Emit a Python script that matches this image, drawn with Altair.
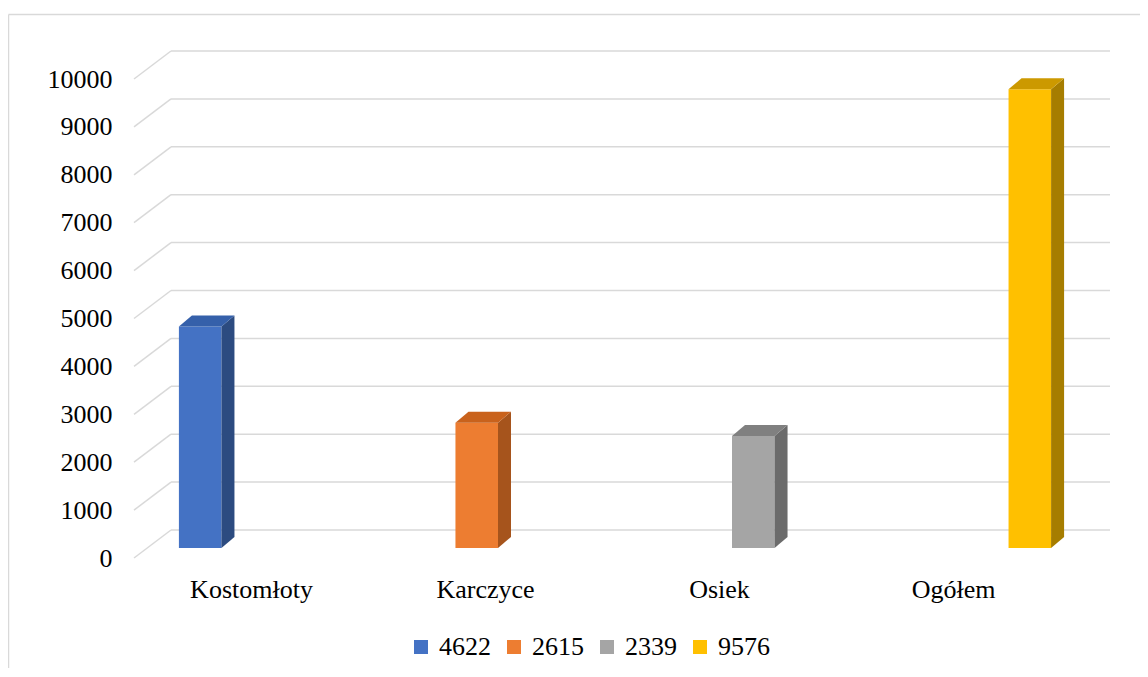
import altair as alt
import pandas as pd

# ---- data ----
CATEGORIES = ["Kostomłoty", "Karczyce", "Osiek", "Ogółem"]
SERIES = ["4622", "2615", "2339", "9576"]
VALUES = [4622, 2615, 2339, 9576]
Y_TICKS = [0, 1000, 2000, 3000, 4000, 5000, 6000, 7000, 8000, 9000, 10000]

# ---- styles ----
FRONT = ["#4472C4", "#ED7D31", "#A5A5A5", "#FFC000"]
TOP = ["#3560AA", "#C9621C", "#808080", "#CC9900"]
SIDE = ["#2C4B80", "#A6541C", "#6B6B6B", "#A67D00"]
GRID = "#d9d9d9"
FONT = "Liberation Serif"

W, H = 976, 479
CAT_W = 234.0                # pixel width of one category on the front edge
DX = 13 / CAT_W              # bar depth, in category units
DY = 11 / H * 10000          # bar depth, in value units
SLOT = 1 / 5.5               # 4 series + 150% gap width

bars = pd.DataFrame({"category": CATEGORIES, "series": SERIES,
                     "value": VALUES, "idx": list(range(len(CATEGORIES)))})
grid = pd.DataFrame({"v": Y_TICKS})

xscale = alt.Scale(domain=[0, W / CAT_W], nice=False, zero=False)
yscale = alt.Scale(domain=[0, 10000], nice=False, zero=False)

label_arr = "[" + ",".join("'" + c + "'" for c in CATEGORIES) + "]"

XAXIS = alt.Axis(values=[0.5, 1.5, 2.5, 3.5],
                 labelExpr=f"{label_arr}[floor(datum.value)]",
                 grid=False, domain=False, ticks=False, title=None,
                 labelPadding=18, labelFontSize=26, labelFont=FONT,
                 labelColor="black", labelAngle=0)
YAXIS = alt.Axis(values=Y_TICKS, format="d", grid=False, domain=False, ticks=False,
                 title=None, labelPadding=22, labelFontSize=26,
                 labelFont=FONT, labelColor="black")

base = (alt.Chart(bars)
        .transform_calculate(left=f"datum.idx + (0.75 + datum.idx) * {SLOT}")
        .transform_calculate(right=f"datum.left + {SLOT}")
        .transform_calculate(zero="0"))

front = base.mark_rect(xOffset=13, x2Offset=13, yOffset=-10, y2Offset=-10).encode(
    x=alt.X("left:Q", scale=xscale, axis=XAXIS),
    x2="right:Q",
    y=alt.Y("value:Q", scale=yscale, axis=YAXIS, stack=None),
    y2="zero:Q",
    color=alt.Color("series:N", scale=alt.Scale(domain=SERIES, range=FRONT),
                    legend=alt.Legend(orient="none", legendX=274, legendY=555,
                                      direction="horizontal", title=None,
                                      symbolType="square", symbolSize=196,
                                      symbolStrokeWidth=0, labelFontSize=26,
                                      labelFont=FONT, labelColor="black",
                                      labelOffset=5, columnPadding=10, padding=0)),
)

pts = (base.transform_calculate(k0="0", k1="1")
       .transform_fold(["k0", "k1"], as_=["kname", "kstr"])
       .transform_calculate(k="toNumber(datum.kstr)"))

side = (pts.transform_calculate(sx=f"datum.right + datum.k * {DX}")
        .transform_calculate(sy=f"datum.value + datum.k * {DY}")
        .transform_calculate(sy2=f"datum.k * {DY}")
        .mark_area(xOffset=13, yOffset=-10, y2Offset=-10)
        .encode(x=alt.X("sx:Q", scale=xscale, axis=XAXIS),
                y=alt.Y("sy:Q", scale=yscale, axis=YAXIS, stack=None),
                y2="sy2:Q",
                color=alt.Color("series:N", scale=alt.Scale(domain=SERIES, range=SIDE), legend=None)))

pts2 = base.transform_calculate(k="[0, 1]").transform_flatten(["k"])
top = (pts2.transform_calculate(tx=f"datum.left + datum.k * {DX}")
       .transform_calculate(tx2=f"datum.right + datum.k * {DX}")
       .transform_calculate(ty=f"datum.value + datum.k * {DY}")
       .mark_area(orient="horizontal", xOffset=13, x2Offset=13, yOffset=-10)
       .encode(y=alt.Y("ty:Q", scale=yscale, axis=YAXIS),
               x=alt.X("tx:Q", scale=xscale, axis=XAXIS, stack=None),
               x2="tx2:Q",
               color=alt.Color("series:N", scale=alt.Scale(domain=SERIES, range=TOP), legend=None)))

back_grid = alt.Chart(grid).mark_rule(color=GRID, strokeWidth=1.5, yOffset=-28, y2Offset=-28).encode(
    x=alt.value(37), x2=alt.value(W),
    y=alt.Y("v:Q", scale=yscale, axis=YAXIS),
)

side_grid = alt.Chart(grid).mark_rule(color=GRID, strokeWidth=1.5, y2Offset=-28).encode(
    x=alt.value(0), x2=alt.value(37),
    y=alt.Y("v:Q", scale=yscale, axis=YAXIS), y2=alt.Y2("v:Q"),
)

frame_df = pd.DataFrame({"a": [0]})
frame_top = alt.Chart(frame_df).mark_rule(color=GRID, strokeWidth=1.5).encode(
    x=alt.value(-125.5), x2=alt.value(W + 40), y=alt.value(-64.5))
frame_left = alt.Chart(frame_df).mark_rule(color=GRID, strokeWidth=1.5).encode(
    x=alt.value(-125.5), y=alt.value(-64.5), y2=alt.value(H + 120))

chart = (alt.layer(frame_top, frame_left, back_grid, side_grid, front, side, top)
         .resolve_scale(color="independent")
         .properties(width=W, height=H,
                     padding={"left": 126, "top": 71, "right": 30, "bottom": 110},
                     autosize=alt.AutoSizeParams(type="none"),
                     background="white")
         .configure_view(stroke=None))

chart.save("out.html", embed_options={"renderer": "svg", "actions": False})
